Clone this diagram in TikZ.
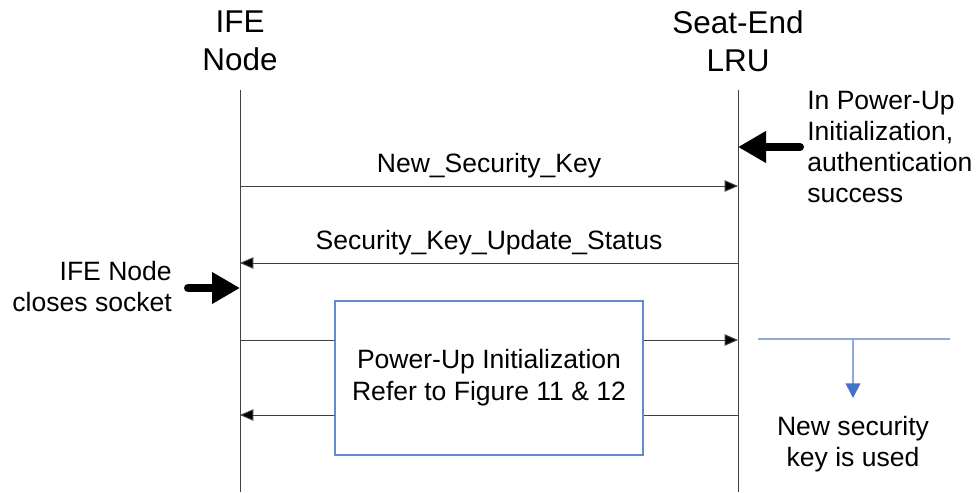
\documentclass[tikz,border=0pt]{standalone}
\usepackage{fontspec}
\setmainfont{Liberation Sans}
\usetikzlibrary{arrows.meta}
\definecolor{boxblue}{RGB}{100,138,205}
\definecolor{lineblue}{RGB}{142,169,219}
\definecolor{headblue}{RGB}{68,114,196}
\begin{document}
\begin{tikzpicture}[x=0.75pt,y=-0.75pt,
  title/.style={align=center,inner sep=0pt,font=\fontsize{23.6pt}{28.5pt}\selectfont},
  lifeline/.style={draw=black!75,line width=0.75pt},
  msg/.style={draw=black!75,line width=0.75pt,-{Triangle[length=10pt,width=8.5pt,fill=black]}},
  plain/.style={draw=black!75,line width=0.75pt},
  lbl/.style={inner sep=0pt,font=\fontsize{19.9pt}{24pt}\selectfont},
  note/.style={inner sep=0pt,font=\fontsize{19.9pt}{23.25pt}\selectfont},
  pbox/.style={draw=boxblue,line width=0.8pt,fill=white,minimum width=231pt,minimum height=115.5pt,align=center,inner sep=0pt,font=\fontsize{19.9pt}{24pt}\selectfont},
  bigarrow/.style={line width=6pt,line cap=round,-{Triangle[length=21pt,width=22.5pt]}},
  blueline/.style={draw=lineblue,line width=1.2pt},
  bluearrow/.style={draw=lineblue,line width=1.2pt,-{Triangle[length=11pt,width=11pt,color=headblue]}}
]
\useasboundingbox (0,0) rectangle (980,492);

% titles
\node[title] (ife) at (240,41) {IFE\\Node};
\node[title] (seat) at (738,41) {Seat-End\\LRU};

% lifelines
\coordinate (ifeT) at (240,90);
\coordinate (ifeB) at (240,492);
\coordinate (seatT) at (738,90);
\coordinate (seatB) at (738,492);
\draw[lifeline] (ifeT) -- (ifeB);
\draw[lifeline] (seatT) -- (seatB);

% message 1
\coordinate (m1) at (0,186);
\draw[msg] (ifeT |- m1) -- (seatT |- m1);
\node[lbl] (l1) at (489,166) {New\_Security\_Key};

% message 2
\coordinate (m2) at (0,263);
\draw[msg] (seatT |- m2) -- (ifeT |- m2);
\node[lbl] (l2) at (489,243) {Security\_Key\_Update\_Status};

% box
\node[pbox] (box) at (489,378) {Power-Up Initialization\\Refer to Figure 11 \& 12};

% messages 3, 4
\coordinate (m3) at (0,340);
\coordinate (m4) at (0,415);
\draw[plain] (ifeT |- m3) -- (box.west |- m3);
\draw[msg] (box.east |- m3) -- (seatT |- m3);
\draw[plain] (seatT |- m4) -- (box.east |- m4);
\draw[msg] (box.west |- m4) -- (ifeT |- m4);

% right note
\node[note,anchor=west,align=left] (n1) at (807,147) {In Power-Up\\Initialization,\\authentication\\success};
\coordinate (n1tail) at (800,147);
\draw[bigarrow] (n1tail) -- (seatT |- n1tail);

% left note
\node[note,anchor=east,align=right] (n2) at (172,287) {IFE Node\\closes socket};
\coordinate (n2tail) at (188,288);
\draw[bigarrow] (n2tail) -- (ifeT |- n2tail);

% blue marker
\coordinate (bl) at (758,339);
\coordinate (br) at (950,339);
\coordinate (bm) at (853,339);
\coordinate (bt) at (853,398);
\draw[blueline] (bl) -- (br);
\draw[bluearrow] (bm) -- (bt);
\node[note,align=center] (n3) at (853,444) {New security\\key is used};
\end{tikzpicture}
\end{document}
